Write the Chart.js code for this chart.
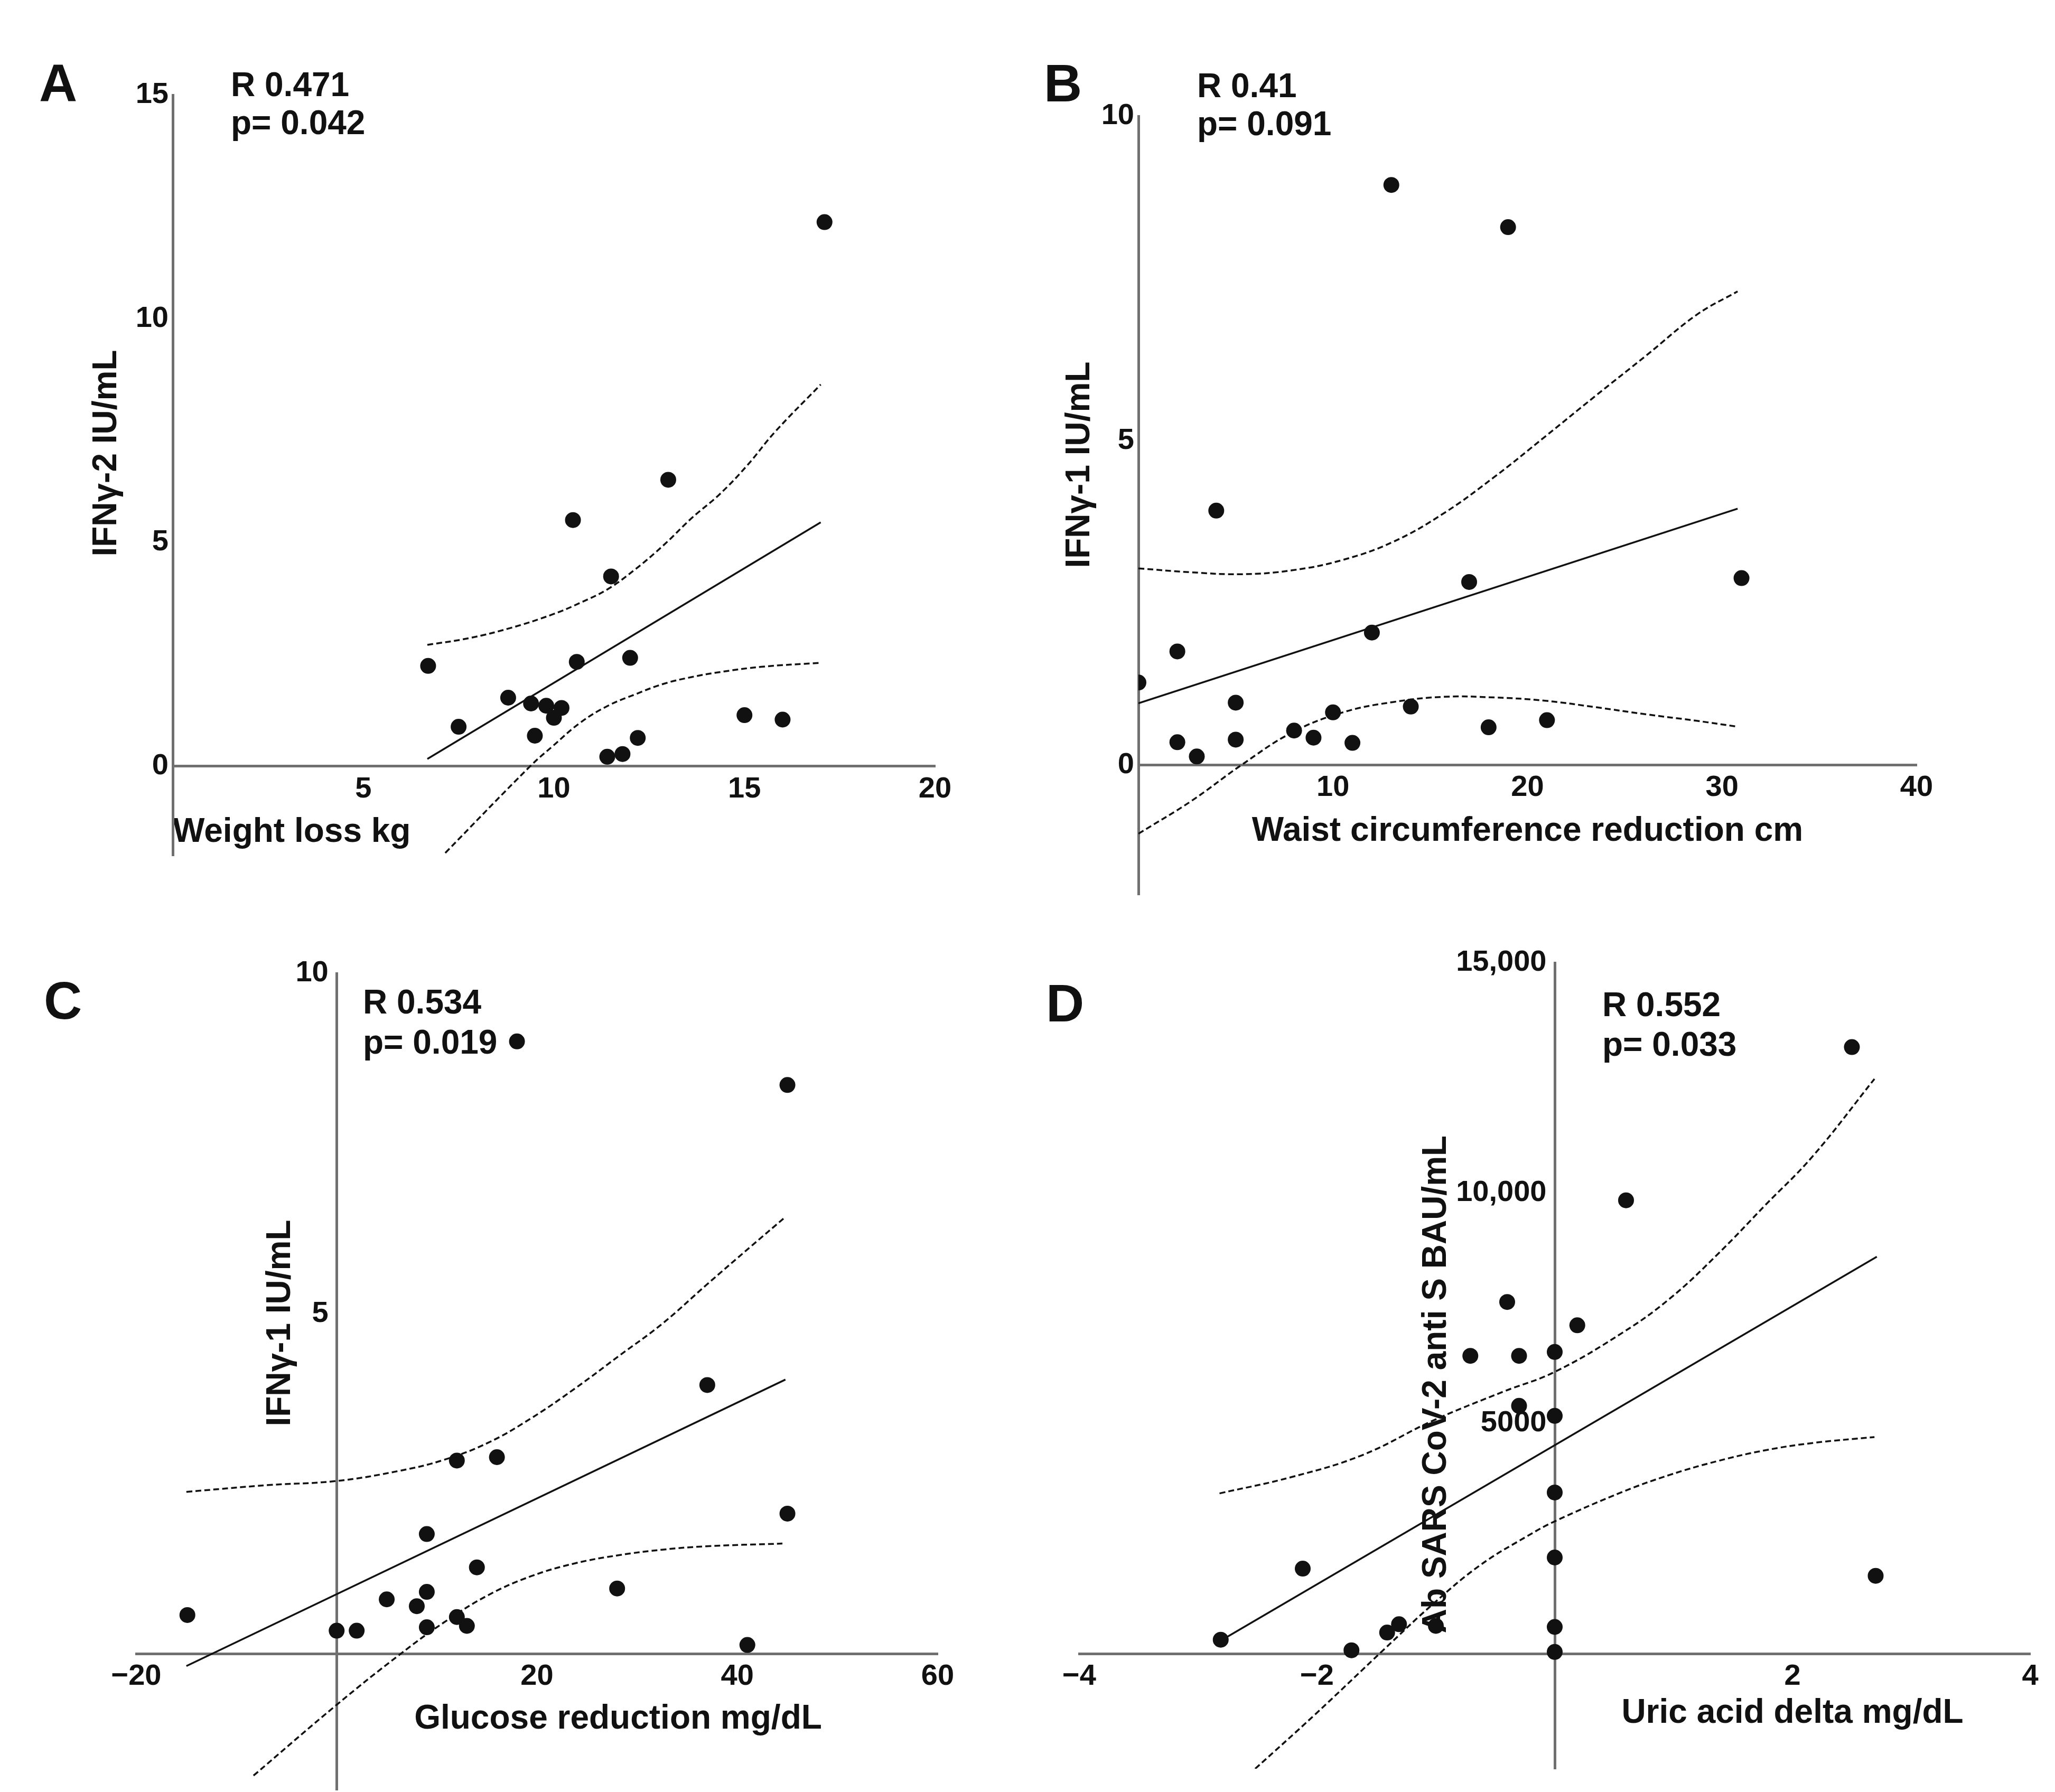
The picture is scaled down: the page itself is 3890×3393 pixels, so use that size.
<!DOCTYPE html>
<html>
<head>
<meta charset="utf-8">
<script src="https://cdn.jsdelivr.net/npm/chart.js@4.4.1/dist/chart.umd.min.js"></script>
<style>
  html, body { margin: 0; padding: 0; background: #fff; overflow: hidden; }
  body { width: 3890px; height: 3393px; position: relative; }
  canvas { position: absolute; }
</style>
</head>
<body>
<canvas id="chartA" width="1945" height="1696" style="left:0px;top:0px;width:1945px;height:1696px"></canvas>
<canvas id="chartB" width="1945" height="1740" style="left:1945px;top:0px;width:1945px;height:1740px"></canvas>
<canvas id="chartC" width="1945" height="1740" style="left:0px;top:1696px;width:1945px;height:1740px"></canvas>
<canvas id="chartD" width="1945" height="1697" style="left:1945px;top:1696px;width:1945px;height:1697px"></canvas>
<script>
// ##################### DATA #############################################

// A - weight loss vs IFNγ-2
const aWeightLoss = [6.7, 7.5, 8.8, 9.4, 9.5, 9.8, 10.0, 10.2, 10.5, 10.6, 11.5, 11.4, 11.8, 12.0, 12.2, 13.0, 15.0, 16.0, 17.1];
const aIfn2 = [2.24, 0.88, 1.53, 1.40, 0.68, 1.35, 1.08, 1.30, 5.50, 2.33, 4.24, 0.21, 0.27, 2.42, 0.63, 6.40, 1.14, 1.04, 12.16];
const aFitX = [6.68, 17.0];
const aFitY = [0.16, 5.45];
const aUpperX = [6.68, 7.77, 8.87, 9.96, 10.69, 11.42, 12.15, 12.88, 13.61, 14.34, 15.07, 15.80, 17.0];
const aUpperY = [2.71, 2.86, 3.09, 3.39, 3.65, 3.96, 4.41, 4.94, 5.54, 6.07, 6.72, 7.47, 8.53];
const aLowerX = [7.15, 9.38, 9.96, 10.69, 11.42, 12.15, 12.88, 13.61, 14.34, 15.44, 17.0];
const aLowerY = [-1.94, 0, 0.44, 0.97, 1.35, 1.61, 1.84, 1.99, 2.10, 2.22, 2.31];
const aXTicks = [5, 10, 15, 20];
const aYTicks = [0, 5, 10, 15];

// B - waist circumference vs IFNγ-1
const bWaist = [0, 2, 2, 3, 4, 5, 5, 8, 9, 10, 11, 12, 13, 14, 17, 18, 19, 21, 31];
const bIfn1 = [1.27, 1.75, 0.35, 0.13, 3.92, 0.96, 0.39, 0.53, 0.42, 0.81, 0.34, 2.04, 8.94, 0.90, 2.82, 0.58, 8.29, 0.69, 2.88];
const bFitX = [0, 30.8];
const bFitY = [0.95, 3.95];
const bUpperX = [0, 2.7, 5.3, 7.9, 10.5, 13.1, 15.7, 18.3, 20.9, 23.5, 26.1, 28.7, 30.8];
const bUpperY = [3.03, 2.97, 2.94, 3.0, 3.16, 3.44, 3.88, 4.44, 5.06, 5.69, 6.31, 6.94, 7.30];
const bLowerX = [0, 2.7, 5.3, 7.9, 10.5, 13.1, 15.7, 18.3, 20.9, 23.5, 26.1, 28.7, 30.8];
const bLowerY = [-1.06, -0.56, 0, 0.5, 0.81, 0.97, 1.05, 1.04, 0.99, 0.89, 0.78, 0.68, 0.59];
const bXTicks = [10, 20, 30, 40];
const bYTicks = [0, 5, 10];

// C - glucose reduction vs IFNγ-1
const cGlucose = [-14.9, 0, 2, 5, 8, 9, 9, 9, 12, 12, 13, 14, 16, 18, 28, 37, 41, 45, 45];
const cIfn1 = [0.57, 0.34, 0.34, 0.80, 0.70, 1.76, 0.91, 0.39, 2.84, 0.54, 0.41, 1.27, 2.89, 9.0, 0.96, 3.95, 0.13, 8.36, 2.06];
const cFitX = [-15.0, 44.8];
const cFitY = [-0.18, 4.03];
const cUpperX = [-15.0, -6.8, 0, 6.3, 10.7, 15.1, 19.4, 23.8, 28.2, 32.5, 36.9, 41.3, 44.8];
const cUpperY = [2.38, 2.48, 2.54, 2.69, 2.85, 3.10, 3.46, 3.90, 4.38, 4.85, 5.42, 5.98, 6.42];
const cLowerX = [-8.3, 0, 6.3, 10.7, 15.1, 19.4, 23.8, 28.2, 32.5, 36.9, 44.5];
const cLowerY = [-1.79, -0.75, -0.01, 0.46, 0.86, 1.14, 1.33, 1.45, 1.53, 1.58, 1.62];
const cXTicks = [-20, 20, 40, 60];
const cYTicks = [5, 10];

// D - uric acid delta vs anti S antibodies
const dUric = [-2.81, -2.12, -1.71, -1.41, -1.31, -1.0, -0.71, -0.40, -0.30, -0.30, 0, 0, 0, 0, 0, 0, 0.19, 0.60, 2.50, 2.70];
const dAb = [302, 1846, 72, 458, 639, 603, 6466, 7636, 6466, 5380, 6550, 5163, 3498, 2087, 579, 36, 7129, 9843, 13170, 1689];
const dFitX = [-2.82, 2.71];
const dFitY = [266, 8617];
const dUpperX = [-2.82, -2.22, -1.62, -1.03, -0.43, 0, 0.57, 0.97, 1.37, 1.77, 2.17, 2.69];
const dUpperY = [3479, 3830, 4309, 5053, 5691, 6117, 6968, 7713, 8670, 9734, 10798, 12479];
const dLowerX = [-2.52, -2.02, -1.43, -1.03, -0.63, -0.23, 0, 0.57, 0.97, 1.37, 1.77, 2.17, 2.69];
const dLowerY = [-2500, -1330, 106, 1064, 1915, 2553, 2872, 3511, 3883, 4181, 4415, 4574, 4702];
const dXTicks = [-4, -2, 2, 4];
const dYTicks = [5000, 10000, 15000];
const dYLabels = ['5000', '10,000', '15,000'];

// ##################### STYLE #######################
const INK = '#111111';
const AXIS = '#707070';
const FONT = '"Liberation Sans", Arial, Helvetica, sans-serif';

Chart.defaults.font.family = FONT;
Chart.defaults.font.weight = 'bold';
Chart.defaults.font.size = 56;
Chart.defaults.color = INK;

const minus = v => String(v).replace('-', '\u2212');
const pts = (xs, ys) => xs.map((x, i) => ({x: x, y: ys[i]}));
const fixedTicks = values => scale => { scale.ticks = values.map(v => ({value: v})); };

// panel letters, R / p notes and the titles chart.js can't put where the figure has them
const panelText = {
    id: 'panelText',
    afterDraw(chart, args, opts) {
        const ctx = chart.ctx;
        (opts.items || []).forEach(t => {
            ctx.save();
            ctx.font = 'bold ' + t.size + 'px ' + FONT;
            ctx.fillStyle = INK;
            ctx.textAlign = t.align || 'left';
            ctx.textBaseline = 'middle';
            ctx.translate(t.x, t.y);
            if (t.vertical) ctx.rotate(-Math.PI / 2);
            ctx.fillText(t.text, 0, 0);
            ctx.restore();
        });
    }
};

function makeSets(px, py, fx, fy, ux, uy, lx, ly) {
    const band = {showLine: true, pointRadius: 0, borderColor: INK, borderWidth: 3.5,
                  borderDash: [11, 6], tension: 0.4, fill: false};
    return [
        {data: pts(px, py), pointRadius: 15, pointBackgroundColor: INK, pointBorderWidth: 0, showLine: false},
        {data: pts(fx, fy), showLine: true, pointRadius: 0, borderColor: INK, borderWidth: 3.5, fill: false},
        Object.assign({data: pts(ux, uy)}, band),
        Object.assign({data: pts(lx, ly)}, band)
    ];
}

function axis(min, max, position, tickValues, tickCallback, padding) {
    return {
        type: 'linear', min: min, max: max, position: position,
        afterBuildTicks: fixedTicks(tickValues),
        ticks: {autoSkip: false, maxRotation: 0, padding: padding, callback: tickCallback},
        grid: {display: false, drawTicks: false},
        border: {display: true, color: AXIS, width: 5}
    };
}

function panel(id, sets, x, y, pad, items) {
    return new Chart(document.getElementById(id), {
        type: 'scatter',
        data: {datasets: sets},
        options: {
            responsive: false,
            animation: false,
            devicePixelRatio: 1,
            layout: {padding: pad},
            plugins: {legend: {display: false}, tooltip: {enabled: false}, panelText: {items: items}},
            scales: {x: x, y: y}
        },
        plugins: [panelText]
    });
}

// ##################### A #######################
const axA = axis(0, 20, {y: 0}, aXTicks, minus, 10);
axA.title = {display: true, text: 'Weight loss kg', align: 'start', font: {size: 64}, padding: 0};
const ayA = axis(-2, 15, 'left', aYTicks, minus, 8);
ayA.afterFit = s => { s.width = 327; };
panel('chartA', makeSets(aWeightLoss, aIfn2, aFitX, aFitY, aUpperX, aUpperY, aLowerX, aLowerY), axA, ayA,
    {left: 0, top: 180, right: 175, bottom: 76},
    [{text: 'A', x: 110, y: 164, size: 100, align: 'center'},
     {text: 'R 0.471', x: 437, y: 164, size: 64},
     {text: 'p= 0.042', x: 437, y: 236, size: 64},
     {text: 'IFNγ-2 IU/mL', x: 202, y: 858, size: 64, align: 'center', vertical: true}]);

// ##################### B #######################
const axB = axis(0, 40, {y: 0}, bXTicks, minus, 10);
axB.title = {display: true, text: 'Waist circumference reduction cm', align: 'center', font: {size: 64}, padding: 0};
const ayB = axis(-2, 10, 'left', bYTicks, minus, 8);
ayB.afterFit = s => { s.width = 210; };
panel('chartB', makeSets(bWaist, bIfn1, bFitX, bFitY, bUpperX, bUpperY, bLowerX, bLowerY), axB, ayB,
    {left: 0, top: 220, right: 262, bottom: 46},
    [{text: 'B', x: 67, y: 164, size: 100, align: 'center'},
     {text: 'R 0.41', x: 321, y: 166, size: 64},
     {text: 'p= 0.091', x: 321, y: 238, size: 64},
     {text: 'IFNγ-1 IU/mL', x: 99, y: 880, size: 64, align: 'center', vertical: true}]);

// ##################### C #######################
const axC = axis(-20, 60, {y: 0}, cXTicks, minus, 10);
const ayC = axis(-2, 10, {x: 0}, cYTicks, v => minus(v) + ' ', 8);
panel('chartC', makeSets(cGlucose, cIfn1, cFitX, cFitY, cUpperX, cUpperY, cLowerX, cLowerY), axC, ayC,
    {left: 258, top: 147, right: 170, bottom: 47},
    [{text: 'C', x: 119, y: 205, size: 100, align: 'center'},
     {text: 'R 0.534', x: 687, y: 205, size: 64},
     {text: 'p= 0.019', x: 687, y: 281, size: 64},
     {text: 'IFNγ-1 IU/mL', x: 531, y: 809, size: 64, align: 'center', vertical: true},
     {text: 'Glucose reduction mg/dL', x: 1170, y: 1559, size: 64, align: 'center'}]);

// ##################### D #######################
const axD = axis(-4, 4, {y: 0}, dXTicks, minus, 10);
const ayD = axis(-2500, 15000, {x: 0}, dYTicks, v => dYLabels[dYTicks.indexOf(v)] + ' ', 8);
panel('chartD', makeSets(dUric, dAb, dFitX, dFitY, dUpperX, dUpperY, dLowerX, dLowerY), axD, ayD,
    {left: 98, top: 127, right: 47, bottom: 44},
    [{text: 'D', x: 71, y: 210, size: 100, align: 'center'},
     {text: 'R 0.552', x: 1088, y: 210, size: 64},
     {text: 'p= 0.033', x: 1088, y: 285, size: 64},
     {text: 'Ab SARS CoV-2 anti S BAU/mL', x: 774, y: 925, size: 64, align: 'center', vertical: true},
     {text: 'Uric acid delta mg/dL', x: 1448, y: 1548, size: 64, align: 'center'}]);
</script>
</body>
</html>
